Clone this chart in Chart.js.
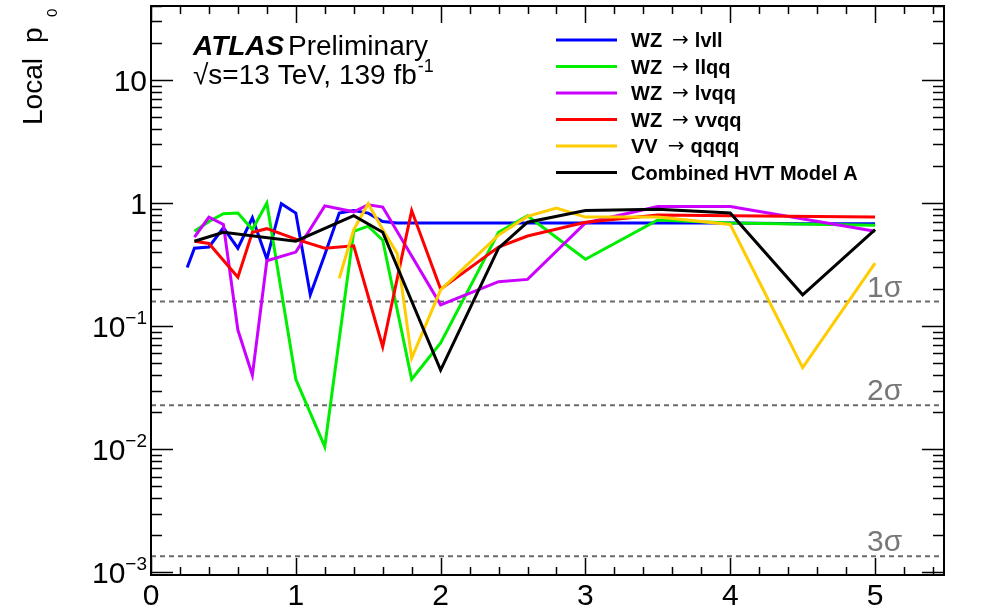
<!DOCTYPE html>
<html>
<head>
<meta charset="utf-8">
<script src="https://cdn.jsdelivr.net/npm/chart.js@4.4.1/dist/chart.umd.min.js"></script>
<style>
  html, body { margin: 0; padding: 0; background: #fff; }
  #wrap { width: 999px; height: 613px; }
</style>
</head>
<body>
<div id="wrap"><canvas id="c" width="999" height="613"></canvas></div>
<script>
// Resonance mass [TeV] and local p0 for each search channel
const massLvll = [0.25, 0.3, 0.4, 0.5, 0.6, 0.7, 0.8, 0.9, 1.0, 1.1, 1.2, 1.3, 1.4, 1.5, 1.6, 1.7, 2.0, 2.5, 3.0, 3.5, 4.0, 4.5, 5.0];
const p0Lvll   = [0.30, 0.43, 0.44, 0.63, 0.43, 0.76, 0.35, 0.99, 0.83, 0.18, 0.38, 0.83, 0.87, 0.83, 0.71, 0.69, 0.69, 0.69, 0.69, 0.69, 0.69, 0.68, 0.68];

const massLlqq = [0.3, 0.4, 0.5, 0.6, 0.7, 0.8, 1.0, 1.2, 1.4, 1.5, 1.6, 1.8, 2.0, 2.4, 2.6, 3.0, 3.5, 4.0, 5.0];
const p0Llqq   = [0.59, 0.71, 0.82, 0.83, 0.61, 1.0, 0.037, 0.0105, 0.59, 0.65, 0.50, 0.037, 0.073, 0.58, 0.79, 0.35, 0.73, 0.69, 0.66];

const massLvqq = [0.3, 0.4, 0.5, 0.6, 0.7, 0.8, 1.0, 1.2, 1.4, 1.5, 1.6, 2.0, 2.4, 2.6, 3.0, 3.5, 4.0, 5.0];
const p0Lvqq   = [0.53, 0.77, 0.67, 0.093, 0.040, 0.34, 0.40, 0.95, 0.85, 0.97, 0.93, 0.149, 0.23, 0.24, 0.69, 0.94, 0.94, 0.59];

const massVvqq = [0.3, 0.4, 0.6, 0.7, 0.8, 1.0, 1.2, 1.4, 1.6, 1.8, 2.0, 2.4, 2.6, 3.0, 3.5, 4.0, 5.0];
const p0Vvqq   = [0.49, 0.47, 0.25, 0.58, 0.62, 0.51, 0.43, 0.45, 0.068, 0.87, 0.20, 0.44, 0.54, 0.70, 0.80, 0.79, 0.77];

const massQqqq = [1.3, 1.4, 1.5, 1.6, 1.7, 1.8, 2.0, 2.4, 2.6, 2.8, 3.0, 3.5, 4.0, 4.5, 5.0];
const p0Qqqq   = [0.245, 0.61, 0.99, 0.61, 0.39, 0.055, 0.197, 0.55, 0.78, 0.91, 0.77, 0.77, 0.67, 0.046, 0.325];

const massComb = [0.3, 0.5, 1.0, 1.4, 1.6, 2.0, 2.4, 2.6, 3.0, 3.5, 4.0, 4.5, 5.0];
const p0Comb   = [0.49, 0.58, 0.49, 0.79, 0.58, 0.044, 0.43, 0.70, 0.87, 0.89, 0.83, 0.18, 0.61];

// One-sided p-values for 1, 2, 3 sigma
const sigmaNames  = ['1σ', '2σ', '3σ'];
const sigmaValues = [0.158655, 0.02275, 0.0013499];

// Axis ranges and labelled ticks
const xMin = 0, xMax = 5.476;
const yMin = 0.00095, yMax = 40;
const xTickLabels = [0, 1, 2, 3, 4, 5];
const yDecades = [-3, -2, -1, 0, 1];

const channels = [
  { label: 'WZ \u2192 lvll', mass: massLvll, p0: p0Lvll, color: '#0000ff' },
  { label: 'WZ \u2192 llqq', mass: massLlqq, p0: p0Llqq, color: '#00ee00' },
  { label: 'WZ \u2192 lvqq', mass: massLvqq, p0: p0Lvqq, color: '#cc00ff' },
  { label: 'WZ \u2192 vvqq', mass: massVvqq, p0: p0Vvqq, color: '#ff0000' },
  { label: 'VV \u2192 qqqq', mass: massQqqq, p0: p0Qqqq, color: '#ffcc00' },
  { label: 'Combined HVT Model A', mass: massComb, p0: p0Comb, color: '#000000' }
];

const FONT = '"Liberation Sans", Arial, Helvetica, sans-serif';

const toPoints = (xs, ys) => xs.map((m, i) => ({ x: m, y: ys[i] }));

// Channel curves: the combined result goes first so it is painted on top
const curveSets = channels.slice().reverse().map(ch => ({
  label: ch.label,
  data: toPoints(ch.mass, ch.p0),
  borderColor: ch.color,
  backgroundColor: ch.color,
  borderWidth: 3,
  pointRadius: 0,
  tension: 0,
  fill: false
}));

// Significance reference lines
const sigmaSets = sigmaValues.map((v, i) => ({
  label: sigmaNames[i],
  data: [{ x: xMin, y: v }, { x: xMax, y: v }],
  borderColor: '#6a6a6a',
  borderWidth: 2,
  borderDash: [5, 4],
  pointRadius: 0,
  fill: false
}));

// Frame, inward ticks, axis labels, annotations and legend
const decorations = {
  id: 'decorations',
  afterDraw(chart) {
    const { ctx, chartArea, scales } = chart;
    const { left, right, top, bottom } = chartArea;
    const xs = scales.x, ys = scales.y;
    ctx.save();

    // ticks
    ctx.strokeStyle = '#000';
    ctx.lineWidth = 1.5;
    ctx.beginPath();
    for (let i = 0; i * 0.2 <= xMax + 1e-9; i++) {
      const v = i / 5;
      const px = Math.round(xs.getPixelForValue(v)) + 0.5;
      const len = (i % 5 === 0) ? 17 : 8;
      ctx.moveTo(px, bottom); ctx.lineTo(px, bottom - len);
      ctx.moveTo(px, top); ctx.lineTo(px, top + len);
    }
    for (let k = -4; k <= 2; k++) {
      for (let m = 1; m <= 9; m++) {
        const v = m * Math.pow(10, k);
        if (v < yMin || v > yMax) continue;
        const py = Math.round(ys.getPixelForValue(v)) + 0.5;
        const len = (m === 1) ? 22 : 11;
        ctx.moveTo(left, py); ctx.lineTo(left + len, py);
        ctx.moveTo(right, py); ctx.lineTo(right - len, py);
      }
    }
    ctx.stroke();

    // frame
    ctx.lineWidth = 2;
    ctx.strokeRect(left, top, right - left, bottom - top);

    // y tick labels with exponents
    ctx.fillStyle = '#000';
    ctx.textBaseline = 'alphabetic';
    yDecades.forEach(k => {
      const py = ys.getPixelForValue(Math.pow(10, k));
      const base = (k === 0) ? '1' : '10';
      const expo = (k === 0 || k === 1) ? '' : '\u2212' + Math.abs(k);
      ctx.font = '30px ' + FONT;
      const wb = ctx.measureText(base).width;
      ctx.font = '19px ' + FONT;
      const we = expo ? ctx.measureText(expo).width : 0;
      const xr = 147;
      const baseline = py + 11;
      ctx.font = '30px ' + FONT;
      ctx.textAlign = 'left';
      ctx.fillText(base, xr - we - wb, baseline);
      if (expo) {
        ctx.font = '19px ' + FONT;
        ctx.fillText(expo, xr - we, baseline - 13);
      }
    });

    // y axis title: Local p with subscript 0, reading upwards
    ctx.save();
    ctx.translate(42, 0);
    ctx.rotate(-Math.PI / 2);
    ctx.textAlign = 'left';
    ctx.font = '28px ' + FONT;
    ctx.fillText('Local', -125, 0);
    ctx.fillText('p', -43, 0);
    ctx.font = '15px ' + FONT;
    ctx.fillText('0', -17, 15);
    ctx.restore();

    // experiment label
    ctx.textAlign = 'left';
    ctx.font = 'italic bold 28px ' + FONT;
    ctx.fillText('ATLAS', 193, 55);
    ctx.font = '28px ' + FONT;
    ctx.fillText('Preliminary', 288, 55);
    ctx.fillText('\u221As=13 TeV, 139 fb', 193, 84);
    const w2 = ctx.measureText('\u221As=13 TeV, 139 fb').width;
    ctx.font = '18px ' + FONT;
    ctx.fillText('-1', 193 + w2 + 1, 72);

    // significance labels
    ctx.fillStyle = '#777777';
    ctx.font = '30px ' + FONT;
    sigmaValues.forEach((v, i) => {
      const py = ys.getPixelForValue(v);
      ctx.fillText(sigmaNames[i], 867, py - 5);
    });

    // legend
    channels.forEach((ch, i) => {
      const cy = 40 + i * 26.5;
      ctx.strokeStyle = ch.color;
      ctx.lineWidth = 3;
      ctx.beginPath();
      ctx.moveTo(556, cy); ctx.lineTo(617, cy);
      ctx.stroke();
      ctx.fillStyle = '#000';
      const base = cy + 7;
      const parts = ch.label.split('\u2192');
      if (parts.length === 2) {
        let x0 = 631;
        const a = parts[0].trim(), b = parts[1].trim();
        ctx.font = 'bold 20px ' + FONT;
        ctx.fillText(a, x0, base);
        x0 += ctx.measureText(a).width + 10;
        ctx.font = '20px "DejaVu Sans", ' + FONT;
        ctx.fillText('\u2192', x0, base - 1);
        x0 += ctx.measureText('\u2192').width + 6;
        ctx.font = 'bold 20px ' + FONT;
        ctx.fillText(b, x0, base);
      } else {
        ctx.font = 'bold 20px ' + FONT;
        ctx.fillText(ch.label, 631, base);
      }
    });

    ctx.restore();
  }
};

new Chart(document.getElementById('c'), {
  type: 'line',
  data: { datasets: curveSets.concat(sigmaSets) },
  options: {
    responsive: false,
    animation: false,
    devicePixelRatio: 1,
    layout: { padding: { top: 6, right: 55, left: 0, bottom: 0 } },
    plugins: { legend: { display: false }, tooltip: { enabled: false } },
    scales: {
      x: {
        type: 'linear',
        min: xMin,
        max: xMax,
        afterFit: s => { s.height = 38; },
        afterBuildTicks: s => { s.ticks = xTickLabels.map(v => ({ value: v })); },
        grid: { display: false, drawTicks: false },
        border: { display: false },
        ticks: {
          color: '#000',
          font: { family: FONT, size: 30 },
          padding: 4,
          maxRotation: 0,
          autoSkip: false,
          callback: v => String(v)
        }
      },
      y: {
        type: 'logarithmic',
        min: yMin,
        max: yMax,
        afterFit: s => { s.width = 151; },
        grid: { display: false, drawTicks: false },
        border: { display: false },
        ticks: { display: false }
      }
    }
  },
  plugins: [decorations]
});
</script>
</body>
</html>
